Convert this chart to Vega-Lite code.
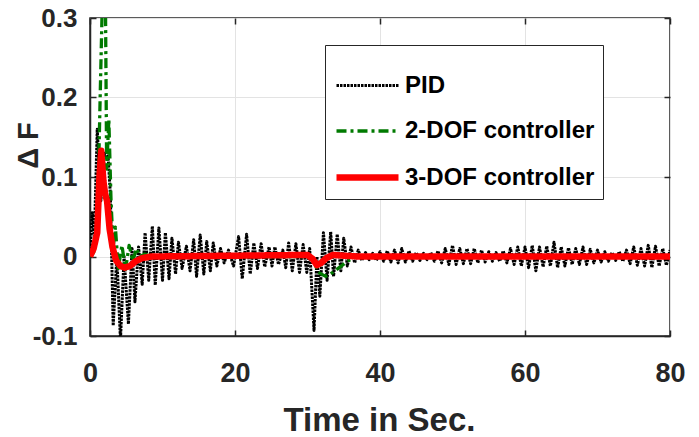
{
"$schema": "https://vega.github.io/schema/vega-lite/v6.json",
"width": 580, "height": 318,
"autosize": "none",
"padding": {"left": 90, "top": 18, "right": 29, "bottom": 101},
"background": "white",
"config": {
  "view": {"stroke": "#262626", "strokeWidth": 1.5},
  "axis": {"labelFont": "Liberation Sans", "titleFont": "Liberation Sans", "labelColor": "#262626", "titleColor": "#262626", "labelFontWeight": "bold", "titleFontWeight": "bold", "gridColor": "#e3e3e3", "gridWidth": 1, "tickColor": "#262626", "domainColor": "#262626", "tickWidth": 1.5, "domainWidth": 1.5},
  "legend": {"orient": "none", "legendX": 235, "legendY": 27, "fillColor": "white", "strokeColor": "#262626", "strokeWidth": 1, "padding": 8, "labelFont": "Liberation Sans", "labelFontWeight": "bold", "labelFontSize": 24, "labelColor": "black", "symbolType": "stroke", "symbolSize": 3844, "labelOffset": 3, "rowPadding": 0, "labelLimit": 400}
},
"data": {"values": [
{"t":0,"v":0,"c":"PID"},{"t":0.3,"v":0.055,"c":"PID"},{"t":0.6,"v":0.025,"c":"PID"},{"t":1.0,"v":0.16,"c":"PID"},{"t":1.5,"v":0.07,"c":"PID"},{"t":2.0,"v":0.13,"c":"PID"},{"t":2.5,"v":0.125,"c":"PID"},{"t":2.8,"v":0.08,"c":"PID"},{"t":3.2,"v":-0.087,"c":"PID"},{"t":3.7,"v":0.0,"c":"PID"},{"t":4.2,"v":-0.105,"c":"PID"},{"t":4.7,"v":0.0,"c":"PID"},{"t":5.3,"v":-0.085,"c":"PID"},{"t":5.8,"v":0.01,"c":"PID"},{"t":6.2,"v":-0.057,"c":"PID"},{"t":6.7,"v":0.012,"c":"PID"},{"t":7.2,"v":-0.035,"c":"PID"},{"t":7.6,"v":0.03,"c":"PID"},{"t":8.1,"v":-0.03,"c":"PID"},{"t":8.6,"v":0.038,"c":"PID"},{"t":9.0,"v":-0.036,"c":"PID"},{"t":9.5,"v":0.036,"c":"PID"},{"t":10.0,"v":-0.03,"c":"PID"},{"t":10.4,"v":0.03,"c":"PID"},{"t":10.9,"v":-0.028,"c":"PID"},{"t":11.3,"v":0.023,"c":"PID"},{"t":11.8,"v":-0.022,"c":"PID"},{"t":12.2,"v":0.018,"c":"PID"},{"t":12.7,"v":-0.015,"c":"PID"},{"t":13.3,"v":0.013,"c":"PID"},{"t":13.8,"v":-0.018,"c":"PID"},{"t":14.3,"v":0.021,"c":"PID"},{"t":14.7,"v":-0.025,"c":"PID"},{"t":15.2,"v":0.027,"c":"PID"},{"t":15.7,"v":-0.022,"c":"PID"},{"t":16.1,"v":0.019,"c":"PID"},{"t":16.6,"v":-0.018,"c":"PID"},{"t":17.0,"v":0.017,"c":"PID"},{"t":17.5,"v":-0.012,"c":"PID"},{"t":18.0,"v":0.01,"c":"PID"},{"t":18.5,"v":-0.008,"c":"PID"},{"t":19.1,"v":0.008,"c":"PID"},{"t":19.8,"v":-0.012,"c":"PID"},{"t":20.5,"v":0.025,"c":"PID"},{"t":21.0,"v":-0.028,"c":"PID"},{"t":21.6,"v":0.028,"c":"PID"},{"t":22.1,"v":-0.022,"c":"PID"},{"t":22.6,"v":0.017,"c":"PID"},{"t":23.1,"v":-0.015,"c":"PID"},{"t":23.6,"v":0.016,"c":"PID"},{"t":24.1,"v":-0.013,"c":"PID"},{"t":24.7,"v":0.012,"c":"PID"},{"t":25.1,"v":-0.012,"c":"PID"},{"t":25.5,"v":0.012,"c":"PID"},{"t":26.0,"v":-0.01,"c":"PID"},{"t":26.6,"v":0.008,"c":"PID"},{"t":27.0,"v":-0.014,"c":"PID"},{"t":27.4,"v":0.017,"c":"PID"},{"t":27.9,"v":-0.018,"c":"PID"},{"t":28.4,"v":0.016,"c":"PID"},{"t":28.9,"v":-0.02,"c":"PID"},{"t":29.4,"v":0.015,"c":"PID"},{"t":29.9,"v":-0.02,"c":"PID"},{"t":30.3,"v":0.01,"c":"PID"},{"t":30.9,"v":-0.093,"c":"PID"},{"t":31.3,"v":0.0,"c":"PID"},{"t":31.7,"v":-0.05,"c":"PID"},{"t":32.2,"v":0.03,"c":"PID"},{"t":32.7,"v":-0.03,"c":"PID"},{"t":33.2,"v":0.031,"c":"PID"},{"t":33.6,"v":-0.025,"c":"PID"},{"t":34.1,"v":0.028,"c":"PID"},{"t":34.6,"v":-0.018,"c":"PID"},{"t":35.0,"v":0.023,"c":"PID"},{"t":35.5,"v":-0.012,"c":"PID"},{"t":36.0,"v":0.012,"c":"PID"},{"t":36.5,"v":-0.008,"c":"PID"},
{"t":37.0,"v":0.008,"c":"PID"},{"t":37.5,"v":-0.005,"c":"PID"},{"t":38.0,"v":0.005,"c":"PID"},{"t":38.5,"v":-0.004,"c":"PID"},{"t":39.0,"v":0.004,"c":"PID"},{"t":39.5,"v":-0.005,"c":"PID"},{"t":40.0,"v":0.006,"c":"PID"},{"t":40.5,"v":-0.006,"c":"PID"},{"t":41.0,"v":0.007,"c":"PID"},{"t":41.5,"v":-0.007,"c":"PID"},{"t":42.0,"v":0.008,"c":"PID"},{"t":42.5,"v":-0.008,"c":"PID"},{"t":43.0,"v":0.01,"c":"PID"},{"t":43.5,"v":-0.007,"c":"PID"},{"t":44.0,"v":0.007,"c":"PID"},{"t":44.5,"v":-0.006,"c":"PID"},{"t":45.0,"v":0.005,"c":"PID"},{"t":45.5,"v":-0.005,"c":"PID"},{"t":46.0,"v":0.004,"c":"PID"},{"t":46.5,"v":-0.004,"c":"PID"},{"t":47.0,"v":0.005,"c":"PID"},{"t":47.5,"v":-0.006,"c":"PID"},{"t":48.0,"v":0.007,"c":"PID"},{"t":48.5,"v":-0.008,"c":"PID"},{"t":49.0,"v":0.01,"c":"PID"},{"t":49.5,"v":-0.01,"c":"PID"},{"t":50.0,"v":0.014,"c":"PID"},{"t":50.5,"v":-0.01,"c":"PID"},{"t":51.0,"v":0.01,"c":"PID"},{"t":51.5,"v":-0.009,"c":"PID"},{"t":52.0,"v":0.01,"c":"PID"},{"t":52.5,"v":-0.009,"c":"PID"},{"t":53.0,"v":0.01,"c":"PID"},{"t":53.5,"v":-0.008,"c":"PID"},{"t":54.0,"v":0.008,"c":"PID"},{"t":54.5,"v":-0.007,"c":"PID"},{"t":55.0,"v":0.006,"c":"PID"},{"t":55.5,"v":-0.006,"c":"PID"},{"t":56.0,"v":0.005,"c":"PID"},{"t":56.5,"v":-0.006,"c":"PID"},{"t":57.0,"v":0.007,"c":"PID"},{"t":57.5,"v":-0.008,"c":"PID"},{"t":58.0,"v":0.01,"c":"PID"},{"t":58.5,"v":-0.01,"c":"PID"},{"t":59.0,"v":0.012,"c":"PID"},{"t":59.5,"v":-0.012,"c":"PID"},{"t":60.0,"v":0.012,"c":"PID"},{"t":60.5,"v":-0.014,"c":"PID"},{"t":61.0,"v":0.014,"c":"PID"},{"t":61.5,"v":-0.018,"c":"PID"},{"t":62.0,"v":0.012,"c":"PID"},{"t":62.5,"v":-0.013,"c":"PID"},{"t":63.0,"v":0.013,"c":"PID"},{"t":63.5,"v":-0.012,"c":"PID"},{"t":64.0,"v":0.018,"c":"PID"},{"t":64.5,"v":-0.014,"c":"PID"},{"t":65.0,"v":0.012,"c":"PID"},{"t":65.5,"v":-0.012,"c":"PID"},{"t":66.0,"v":0.011,"c":"PID"},{"t":66.5,"v":-0.01,"c":"PID"},{"t":67.0,"v":0.01,"c":"PID"},{"t":67.5,"v":-0.01,"c":"PID"},{"t":68.0,"v":0.012,"c":"PID"},{"t":68.5,"v":-0.01,"c":"PID"},{"t":69.0,"v":0.009,"c":"PID"},{"t":69.5,"v":-0.008,"c":"PID"},{"t":70.0,"v":0.008,"c":"PID"},{"t":70.5,"v":-0.007,"c":"PID"},{"t":71.0,"v":0.006,"c":"PID"},{"t":71.5,"v":-0.006,"c":"PID"},{"t":72.0,"v":0.005,"c":"PID"},{"t":72.5,"v":-0.005,"c":"PID"},{"t":73.0,"v":0.006,"c":"PID"},{"t":73.5,"v":-0.006,"c":"PID"},{"t":74.0,"v":0.008,"c":"PID"},{"t":74.5,"v":-0.009,"c":"PID"},{"t":75.0,"v":0.012,"c":"PID"},{"t":75.5,"v":-0.011,"c":"PID"},{"t":76.0,"v":0.01,"c":"PID"},{"t":76.5,"v":-0.012,"c":"PID"},{"t":77.0,"v":0.014,"c":"PID"},{"t":77.5,"v":-0.014,"c":"PID"},{"t":78.0,"v":0.013,"c":"PID"},{"t":78.5,"v":-0.012,"c":"PID"},{"t":79.0,"v":0.01,"c":"PID"},{"t":79.5,"v":-0.011,"c":"PID"},{"t":80.0,"v":0.008,"c":"PID"},
{"t":0,"v":0,"c":"2-DOF controller"},{"t":0.5,"v":0.005,"c":"2-DOF controller"},{"t":1.0,"v":0.03,"c":"2-DOF controller"},{"t":1.4,"v":0.2,"c":"2-DOF controller"},{"t":1.8,"v":0.36,"c":"2-DOF controller"},{"t":2.1,"v":0.36,"c":"2-DOF controller"},{"t":2.3,"v":0.11,"c":"2-DOF controller"},{"t":2.6,"v":0.172,"c":"2-DOF controller"},{"t":2.9,"v":0.07,"c":"2-DOF controller"},{"t":3.2,"v":0.01,"c":"2-DOF controller"},{"t":3.5,"v":0.037,"c":"2-DOF controller"},{"t":3.9,"v":-0.015,"c":"2-DOF controller"},{"t":4.4,"v":0.014,"c":"2-DOF controller"},{"t":4.9,"v":-0.016,"c":"2-DOF controller"},{"t":5.4,"v":0.014,"c":"2-DOF controller"},{"t":5.9,"v":-0.006,"c":"2-DOF controller"},{"t":6.4,"v":0.01,"c":"2-DOF controller"},{"t":6.9,"v":0.0,"c":"2-DOF controller"},{"t":7.5,"v":0.003,"c":"2-DOF controller"},{"t":8.5,"v":0.0,"c":"2-DOF controller"},{"t":20,"v":0.0,"c":"2-DOF controller"},{"t":30.3,"v":0.0,"c":"2-DOF controller"},{"t":30.8,"v":-0.005,"c":"2-DOF controller"},{"t":31.5,"v":-0.02,"c":"2-DOF controller"},{"t":32.5,"v":-0.025,"c":"2-DOF controller"},{"t":33.5,"v":-0.02,"c":"2-DOF controller"},{"t":34.5,"v":-0.013,"c":"2-DOF controller"},{"t":35.5,"v":-0.006,"c":"2-DOF controller"},{"t":36.5,"v":-0.001,"c":"2-DOF controller"},{"t":37.5,"v":0.0,"c":"2-DOF controller"},{"t":80,"v":0.0,"c":"2-DOF controller"},
{"t":0,"v":0,"c":"3-DOF controller"},{"t":0.5,"v":0.01,"c":"3-DOF controller"},{"t":1.0,"v":0.03,"c":"3-DOF controller"},{"t":1.3,"v":0.1,"c":"3-DOF controller"},{"t":1.55,"v":0.133,"c":"3-DOF controller"},{"t":1.85,"v":0.095,"c":"3-DOF controller"},{"t":2.1,"v":0.078,"c":"3-DOF controller"},{"t":2.35,"v":0.07,"c":"3-DOF controller"},{"t":2.7,"v":0.035,"c":"3-DOF controller"},{"t":3.1,"v":0.012,"c":"3-DOF controller"},{"t":3.6,"v":-0.005,"c":"3-DOF controller"},{"t":4.2,"v":-0.012,"c":"3-DOF controller"},{"t":4.8,"v":-0.014,"c":"3-DOF controller"},{"t":5.5,"v":-0.012,"c":"3-DOF controller"},{"t":6.3,"v":-0.006,"c":"3-DOF controller"},{"t":7.2,"v":-0.002,"c":"3-DOF controller"},{"t":8.5,"v":0.0,"c":"3-DOF controller"},{"t":20,"v":0.001,"c":"3-DOF controller"},{"t":30.0,"v":0.002,"c":"3-DOF controller"},{"t":30.7,"v":-0.003,"c":"3-DOF controller"},{"t":31.3,"v":-0.011,"c":"3-DOF controller"},{"t":31.9,"v":-0.008,"c":"3-DOF controller"},{"t":32.6,"v":-0.002,"c":"3-DOF controller"},{"t":33.5,"v":0.002,"c":"3-DOF controller"},{"t":35,"v":0.001,"c":"3-DOF controller"},{"t":37,"v":0.0,"c":"3-DOF controller"},{"t":80,"v":0.0,"c":"3-DOF controller"}
]},
"layer": [
  {
    "mark": {"type": "line", "clip": true, "strokeCap": "butt", "strokeJoin": "round"},
    "encoding": {
      "x": {"field": "t", "type": "quantitative", "scale": {"domain": [0, 80], "nice": false},
        "axis": {"values": [0, 20, 40, 60, 80], "title": "Time in Sec.", "titleFontSize": 33, "titleBaseline": "alphabetic", "titleY": 94, "titleX": 289, "labelFontSize": 27, "labelPadding": 30, "tickSize": -6, "grid": true, "domain": true, "labelFlush": false}},
      "y": {"field": "v", "type": "quantitative", "scale": {"domain": [-0.1, 0.3], "nice": false, "zero": false},
        "axis": {"values": [-0.1, 0, 0.1, 0.2, 0.3], "labelExpr": "datum.value == 0 ? '0' : replace(format(datum.value, '.1f'), '\u2212', '-')", "title": "Δ F", "titleFontSize": 29, "titleAngle": 270, "titleBaseline": "alphabetic", "titleAlign": "center", "titleX": -53, "titleY": 127, "labelFontSize": 26, "labelPadding": 19, "tickSize": -6, "grid": true, "domain": true}},
      "color": {"field": "c", "type": "nominal", "scale": {"domain": ["PID", "2-DOF controller", "3-DOF controller"], "range": ["#000000", "#007a00", "#ff0000"]}, "legend": {"title": null}},
      "strokeDash": {"field": "c", "type": "nominal", "scale": {"domain": ["PID", "2-DOF controller", "3-DOF controller"], "range": [[2.5, 1], [10, 4, 3, 4], [1, 0]]}, "legend": {"title": null}},
      "strokeWidth": {"field": "c", "type": "nominal", "scale": {"type": "ordinal", "domain": ["PID", "2-DOF controller", "3-DOF controller"], "range": [3, 3.3, 6.5]}, "legend": {"title": null}}
    }
  },
  {
    "mark": {"type": "point", "opacity": 0},
    "encoding": {
      "x": {"field": "t", "type": "quantitative", "scale": {"domain": [0, 80], "nice": false},
        "axis": {"orient": "top", "values": [0, 20, 40, 60, 80], "labels": false, "title": null, "tickSize": -6, "grid": false, "domain": false}},
      "y": {"field": "v", "type": "quantitative", "scale": {"domain": [-0.1, 0.3], "nice": false, "zero": false},
        "axis": {"orient": "right", "values": [-0.1, 0, 0.1, 0.2, 0.3], "labels": false, "title": null, "tickSize": -6, "grid": false, "domain": false}}
    }
  }
],
"resolve": {"axis": {"x": "independent", "y": "independent"}}
}
